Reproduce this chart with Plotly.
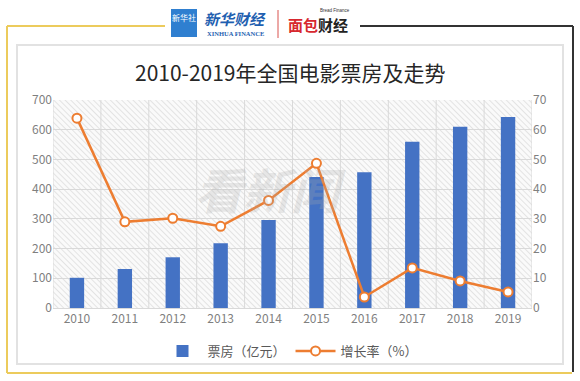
import base64
import plotly.graph_objects as go

years = ["2010", "2011", "2012", "2013", "2014", "2015", "2016", "2017", "2018", "2019"]
box_office = [101.7, 131.2, 170.7, 217.7, 296.4, 440.7, 457.1, 559.1, 609.8, 642.7]
growth = [63.9, 29.0, 30.2, 27.5, 36.2, 48.7, 3.7, 13.5, 9.1, 5.4]
left_ticks = [0, 100, 200, 300, 400, 500, 600, 700]
right_ticks = [0, 10, 20, 30, 40, 50, 60, 70]

BLUE = "#4472C4"
ORANGE = "#ED7D31"
TICK = "#7f7f7f"
GRID = "#d9d9d9"
FONT = "Noto Sans CJK SC"

L, R, T, B = 53, 532, 100, 308
PW, PH = R - L, B - T

fig = go.Figure()
fig.add_trace(go.Bar(
    x=years, y=box_office, name="票房（亿元）",
    marker=dict(color=BLUE, line=dict(width=0)), yaxis="y",
))
fig.add_trace(go.Scatter(
    x=years, y=growth, name="增长率（%）", mode="lines+markers", yaxis="y2",
    line=dict(color=ORANGE, width=2.5),
    marker=dict(size=9, color="white", line=dict(color=ORANGE, width=2)),
))

# hatched plot background
svg = (
    '<svg xmlns="http://www.w3.org/2000/svg" width="%d" height="%d">'
    '<defs><pattern id="p" width="4" height="4" patternUnits="userSpaceOnUse" '
    'patternTransform="rotate(-45)">'
    '<line x1="0" y1="0" x2="0" y2="4" stroke="#d4d4d4" stroke-width="1.2"/></pattern></defs>'
    '<rect width="100%%" height="100%%" fill="#fafafa"/>'
    '<rect width="100%%" height="100%%" fill="url(#p)"/></svg>'
) % (PW, PH)
uri = "data:image/svg+xml;base64," + base64.b64encode(svg.encode()).decode()


def ax(x):
    return (x - L) / PW


def ay(y):
    return (B - y) / PH

fig.update_layout(
    width=580, height=381,
    margin=dict(l=L, r=580 - R, t=T, b=381 - B, autoexpand=False),
    paper_bgcolor="white", plot_bgcolor="rgba(0,0,0,0)",
    font=dict(family=FONT, color=TICK, size=12),
    bargap=0.7,
    showlegend=True,
    legend=dict(orientation="h", x=ax(290), xanchor="center", y=ay(336), yanchor="top",
                font=dict(size=13, color="#595959"), itemwidth=40,
                bgcolor="rgba(0,0,0,0)"),
    xaxis=dict(type="category", range=[-0.5, 9.5], showgrid=False, showline=True,
               linecolor=GRID, ticks="", automargin=False,
               tickfont=dict(size=12, color=TICK)),
    yaxis=dict(range=[0, 700], tickvals=left_ticks, gridcolor=GRID, gridwidth=1,
               zeroline=False, showline=False, automargin=False,
               tickfont=dict(size=12, color=TICK)),
    yaxis2=dict(range=[0, 70], tickvals=right_ticks, overlaying="y", side="right",
                showgrid=False, zeroline=False, showline=False, automargin=False,
                tickfont=dict(size=12, color=TICK)),
    images=[dict(source=uri, xref="paper", yref="paper", x=0, y=1, sizex=1, sizey=1,
                 sizing="stretch", layer="below", xanchor="left", yanchor="top")],
)

# vertical category gridlines (Excel style)
shapes = []
for i in range(len(years) + 1):
    shapes.append(dict(type="line", xref="x", yref="paper", x0=i - 0.5, x1=i - 0.5,
                       y0=0, y1=1, line=dict(color=GRID, width=1), layer="below"))

PX = dict(xref="paper", yref="paper")
YEL = "#ECCB5C"
shapes += [
    dict(type="rect", **PX, x0=ax(17), x1=ax(563), y0=ay(364), y1=ay(45),
         line=dict(color="#e2e2e2", width=2), layer="below"),
    dict(type="line", **PX, x0=ax(7), x1=ax(165), y0=ay(26), y1=ay(26),
         line=dict(color=YEL, width=2)),
    dict(type="line", **PX, x0=ax(7), x1=ax(7), y0=ay(26), y1=ay(373),
         line=dict(color=YEL, width=2)),
    dict(type="line", **PX, x0=ax(7), x1=ax(572), y0=ay(373), y1=ay(373),
         line=dict(color=YEL, width=2)),
    dict(type="line", **PX, x0=ax(360), x1=ax(573), y0=ay(26), y1=ay(26),
         line=dict(color="#333333", width=2)),
    dict(type="line", **PX, x0=ax(573), x1=ax(573), y0=ay(26), y1=ay(372),
         line=dict(color="#333333", width=2)),
    dict(type="rect", **PX, x0=ax(171), x1=ax(197), y0=ay(37), y1=ay(9),
         fillcolor="#2f7fd0", line=dict(width=0)),
    dict(type="line", **PX, x0=ax(278), x1=ax(278), y0=ay(10), y1=ay(38),
         line=dict(color="#d9534f", width=1)),
]
fig.update_layout(shapes=shapes)

annotations = [
    dict(text="2010-2019年全国电影票房及走势", x=ax(290), y=ay(72),
         font=dict(size=21, color="#262626", family=FONT)),
    dict(text="新华社", x=ax(184), y=ay(17),
         font=dict(size=8, color="white", family=FONT)),
    dict(text="<b><i>新华财经</i></b>", x=ax(235), y=ay(18),
         font=dict(size=15, color="#1f5fb0", family=FONT)),
    dict(text="<b>XINHUA FINANCE</b>", x=ax(235), y=ay(33),
         font=dict(size=6.5, color="#1f5fb0", family="Liberation Serif")),
    dict(text="<b>面包</b>", x=ax(303), y=ay(25),
         font=dict(size=15, color="#d7282f", family=FONT)),
    dict(text="<b>财经</b>", x=ax(333), y=ay(25),
         font=dict(size=15, color="#222222", family=FONT)),
    dict(text="Bread Finance", x=ax(335), y=ay(10),
         font=dict(size=4.5, color="#333333", family="Liberation Sans")),
    dict(text="<b><i>看新闻</i></b>", x=ax(270), y=ay(188),
         font=dict(size=48, color="rgba(170,170,170,0.25)", family=FONT)),
]
for a in annotations:
    a.update(xref="paper", yref="paper", showarrow=False, xanchor="center", yanchor="middle")
fig.update_layout(annotations=annotations)

fig.write_html("out.html", config={"displayModeBar": False},
               post_script="document.body.style.margin='0';")
